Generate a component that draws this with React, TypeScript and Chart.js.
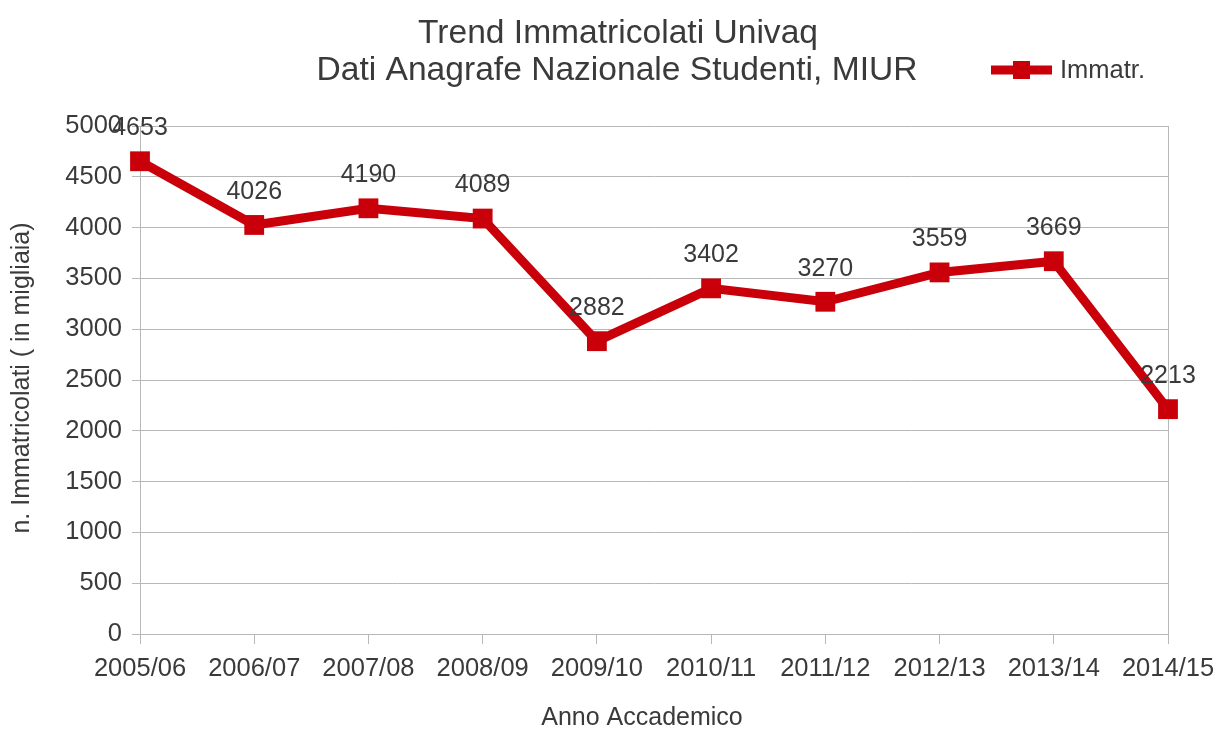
import React, { useEffect, useRef } from "react";
import { Chart, registerables } from "chart.js";

Chart.register(...registerables);

const categories = ["2005/06", "2006/07", "2007/08", "2008/09", "2009/10", "2010/11", "2011/12", "2012/13", "2013/14", "2014/15"];
const immatricolati = [4653, 4026, 4190, 4089, 2882, 3402, 3270, 3559, 3669, 2213];
const yMin = 0;
const yMax = 5000;
const yStep = 500;
const titleLines = ["Trend Immatricolati Univaq", "Dati Anagrafe Nazionale Studenti, MIUR"];
const seriesName = "Immatr.";
const xTitle = "Anno Accademico";
const yTitle = "n. Immatricolati ( in migliaia)";

const RED = "#c9000a";
const TEXT = "#3a3a3a";
const GRID = "#b8b8b8";
const FONT = "'Liberation Sans', Arial, sans-serif";

const decorPlugin = {
  id: "decor",
  beforeDatasetsDraw(chart: any) {
    const { ctx, chartArea } = chart;
    ctx.save();
    ctx.strokeStyle = GRID;
    ctx.lineWidth = 1;
    ctx.beginPath();
    ctx.moveTo(Math.round(chartArea.right) + 0.5, chartArea.top);
    ctx.lineTo(Math.round(chartArea.right) + 0.5, chartArea.bottom);
    ctx.stroke();
    ctx.restore();
  },
  afterDraw(chart: any) {
    const { ctx } = chart;
    ctx.save();
    ctx.fillStyle = TEXT;
    ctx.textAlign = "center";
    ctx.textBaseline = "middle";
    ctx.font = `33.6px ${FONT}`;
    ctx.fillText(titleLines[0], 618, 34);
    ctx.fillText(titleLines[1], 617, 71);

    // legend
    ctx.strokeStyle = RED;
    ctx.lineWidth = 9;
    ctx.beginPath();
    ctx.moveTo(991, 70);
    ctx.lineTo(1052, 70);
    ctx.stroke();
    ctx.fillStyle = RED;
    ctx.fillRect(1013, 61, 17, 18);
    ctx.fillStyle = TEXT;
    ctx.textAlign = "left";
    ctx.font = `25.5px ${FONT}`;
    ctx.fillText(seriesName, 1060, 71);

    // data labels
    const meta = chart.getDatasetMeta(0);
    ctx.textAlign = "center";
    ctx.font = `25px ${FONT}`;
    meta.data.forEach((pt: any, i: number) => {
      ctx.fillText(String(immatricolati[i]), pt.x, pt.y - 33);
    });

    // axis titles
    ctx.font = `25px ${FONT}`;
    ctx.fillText(xTitle, 642, 718);
    ctx.translate(22, 378);
    ctx.rotate(-Math.PI / 2);
    ctx.fillText(yTitle, 0, 0);
    ctx.restore();
  },
};

export default function App() {
  const ref = useRef<HTMLCanvasElement | null>(null);
  useEffect(() => {
    if (!ref.current) return;
    const chart = new Chart(ref.current, {
      type: "line",
      data: {
        labels: categories,
        datasets: [
          {
            label: seriesName,
            data: immatricolati,
            borderColor: RED,
            backgroundColor: RED,
            borderWidth: 9,
            pointStyle: "rect",
            pointRadius: 14,
            pointBorderWidth: 0,
            pointBackgroundColor: RED,
            tension: 0,
          },
        ],
      },
      options: {
        responsive: false,
        animation: false,
        devicePixelRatio: 1,
        layout: { padding: { top: 126, right: 50, left: 0, bottom: 0 } },
        plugins: {
          legend: { display: false },
          title: { display: false },
          tooltip: { enabled: false },
        },
        scales: {
          x: {
            type: "category",
            offset: false,
            grid: {
              display: true,
              drawOnChartArea: false,
              drawTicks: true,
              tickLength: 10,
              color: GRID,
            },
            border: { display: true, color: GRID },
            ticks: {
              color: TEXT,
              font: { family: FONT, size: 25.5 },
              padding: 10,
              maxRotation: 0,
              autoSkip: false,
            },
            afterFit(scale: any) {
              scale.height = 98;
              scale.paddingLeft = 0;
              scale.paddingRight = 0;
            },
          },
          y: {
            min: yMin,
            max: yMax,
            grid: { color: GRID, tickLength: 8, drawTicks: true },
            border: { display: true, color: GRID },
            ticks: {
              stepSize: yStep,
              color: TEXT,
              font: { family: FONT, size: 25.5 },
              padding: 10,
              callback: (v: any) => String(v),
            },
            afterFit(scale: any) {
              scale.width = 140;
            },
          },
        },
      },
      plugins: [decorPlugin],
    });
    return () => chart.destroy();
  }, []);
  return (
    <div style={{ position: "absolute", left: 0, top: 0, width: 1218, height: 732, background: "#fff" }}>
      <canvas ref={ref} width={1218} height={732} style={{ display: "block" }} />
    </div>
  );
}
